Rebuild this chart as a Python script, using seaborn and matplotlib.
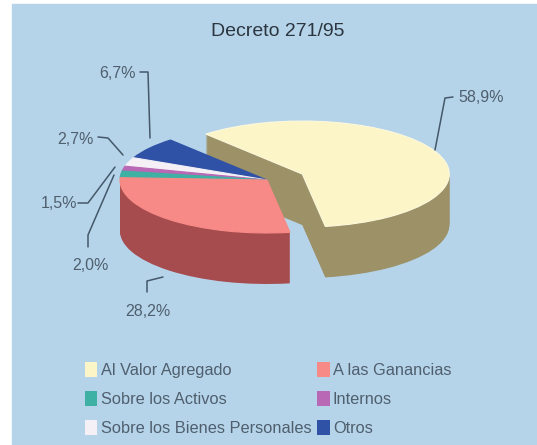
import matplotlib
matplotlib.use('Agg')
import matplotlib.pyplot as plt
from matplotlib.patches import Patch, Rectangle
import seaborn as sns

# shares, in pie order going counter clockwise
categories = ['Al Valor Agregado', 'Otros', 'Sobre los Bienes Personales',
              'Internos', 'Sobre los Activos', 'A las Ganancias']
shares = [58.9, 6.7, 2.7, 1.5, 2.0, 28.2]
share_labels = ['58,9%', '6,7%', '2,7%', '1,5%', '2,0%', '28,2%']

top_colors = ['#fbf5c8', '#2f52a6', '#f4f0f6', '#b868b4', '#3fb0a4', '#f78a86']
side_colors = ['#9d9168', 'none', 'none', 'none', '#1f9e96', '#a64c4e']
edge_colors = ['#fdf9dc', '#2f52a6', '#f4f0f6', '#b868b4', '#3fb0a4', '#f78a86']
explode = [0.265, 0, 0, 0, 0, 0]

bg = '#b6d4e9'
text_color = '#4f5f6e'
line_color = '#44586a'

W, H = 537, 445
rx, ry = 147, 53      # pie radius on screen, pixels
cx, cy = 267, 180     # pie centre, pixels
depth = 51            # wall height, pixels
start = -81

sns.set_theme(style='white', rc={'figure.facecolor': 'white'})
plt.rcParams['font.family'] = ['Liberation Sans', 'DejaVu Sans']

fig = plt.figure(figsize=(W / 100, H / 100), dpi=100)
# the blue panel leaves a white strip on the left and at the top
fig.patches.append(Rectangle((12 / W, 0), 1 - 12 / W, 1 - 4 / H, color=bg, zorder=-1,
                             transform=fig.transFigure, figure=fig))
ax = fig.add_axes([0, 0, 1, 1])
ax.patch.set_alpha(0)

# walls first, stacked from the bottom up, then the top face
for d in range(depth, 0, -1):
    ax.pie(shares, colors=side_colors, explode=explode, startangle=start,
           center=(0, -d / ry), radius=1, wedgeprops={'linewidth': 0})
ax.pie(shares, colors=top_colors, explode=explode, startangle=start,
       center=(0, 0), radius=1, wedgeprops={'linewidth': 0.8})
for w, c in zip(ax.patches[-len(shares):], edge_colors):
    w.set_edgecolor(c)

# squash the circle into the flat ellipse of the picture
ax.set_aspect('auto')
ax.set_xlim(-cx / rx, (W - cx) / rx)
ax.set_ylim(-(H - cy) / ry, cy / ry)
ax.set_axis_off()

# overlay in pixel coordinates for the title and the leader lines
over = fig.add_axes([0, 0, 1, 1])
over.set_xlim(0, W)
over.set_ylim(H, 0)
over.set_axis_off()
over.patch.set_alpha(0)

over.text(278, 31, 'Decreto 271/95', ha='center', va='center', fontsize=14,
          color='#2c3640')

leaders = [
    ([435, 445, 453], [150, 98, 97]),
    ([150, 148, 140], [138, 72, 72]),
    ([123, 108, 98], [155, 138, 137]),
    ([115, 88, 78], [167, 203, 203]),
    ([114, 88, 88], [175, 235, 247]),
    ([163, 147, 147], [277, 281, 292]),
]
text_pos = [(481, 97), (118, 73), (75, 140), (59, 204), (90, 266), (148, 311)]
for (xs, ys), (tx, ty), lab in zip(leaders, text_pos, share_labels):
    over.plot(xs, ys, color=line_color, lw=1.1)
    over.text(tx, ty, lab, ha='center', va='center', fontsize=11.5, color=text_color)

legend_order = [0, 4, 2, 5, 3, 1]
handles = [Patch(facecolor=top_colors[i], edgecolor='none', label=categories[i])
           for i in legend_order]
over.legend(handles=handles, ncol=2, frameon=False, fontsize=11.8,
            loc='upper left', bbox_to_anchor=(85 / W, 1 - 362 / H),
            borderaxespad=0, borderpad=0, labelspacing=0.81,
            handlelength=0.75, handleheight=1.0, handletextpad=0.2,
            columnspacing=0.37, labelcolor=text_color)

plt.savefig('out.png', dpi=100)
